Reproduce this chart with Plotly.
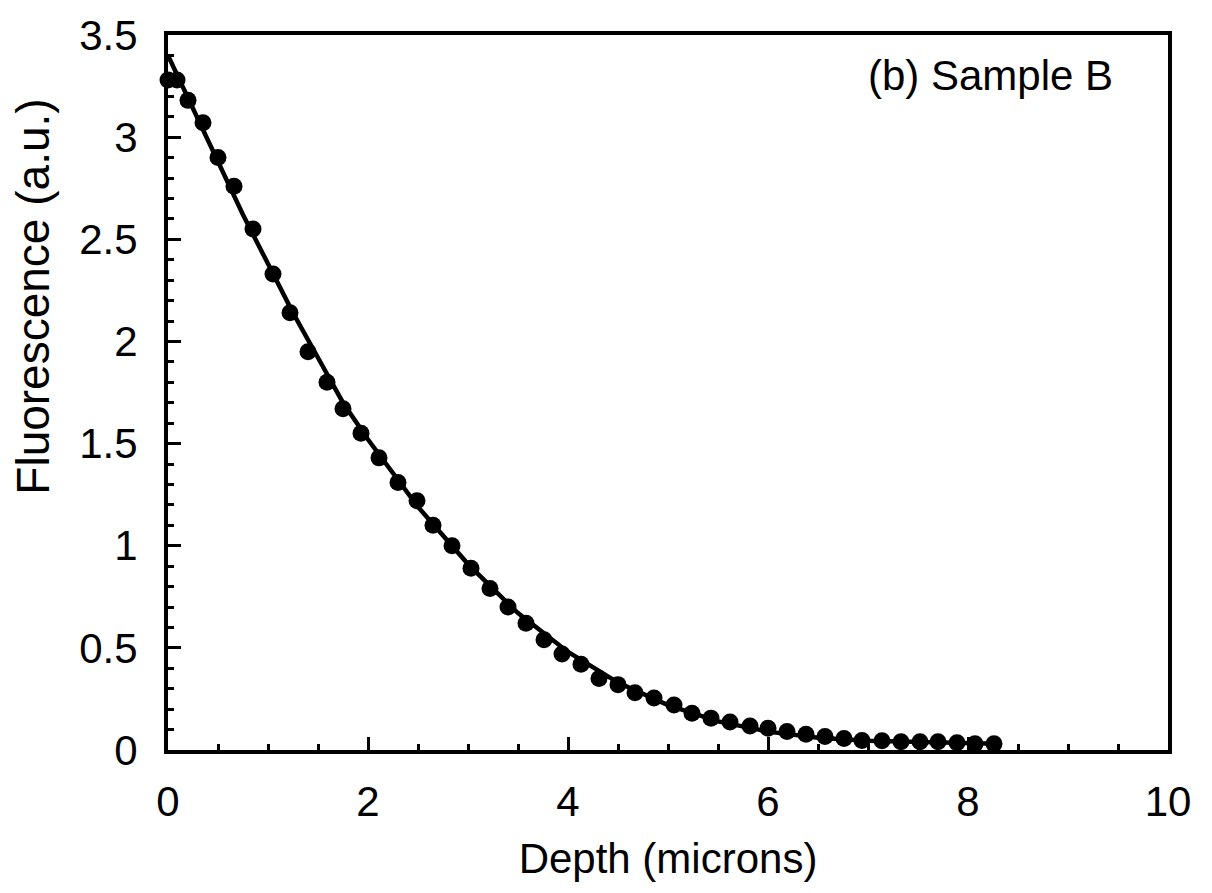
import plotly.graph_objects as go

# Measured data points (depth in microns, fluorescence a.u.)
depth = [0.00, 0.09, 0.20, 0.35, 0.50, 0.66, 0.85, 1.05, 1.22, 1.40,
         1.59, 1.75, 1.93, 2.11, 2.30, 2.49, 2.65, 2.84, 3.03, 3.22,
         3.40, 3.58, 3.76, 3.94, 4.13, 4.31, 4.50, 4.67, 4.86, 5.06,
         5.24, 5.43, 5.62, 5.82, 6.00, 6.19, 6.38, 6.57, 6.76, 6.94,
         7.14, 7.33, 7.52, 7.70, 7.89, 8.07, 8.26]
fluor = [3.28, 3.28, 3.18, 3.07, 2.90, 2.76, 2.55, 2.33, 2.14, 1.95,
         1.80, 1.67, 1.55, 1.43, 1.31, 1.22, 1.10, 1.00, 0.89, 0.79,
         0.70, 0.62, 0.54, 0.47, 0.42, 0.35, 0.32, 0.28, 0.255, 0.22,
         0.18, 0.156, 0.137, 0.117, 0.107, 0.09, 0.077, 0.066, 0.056, 0.046,
         0.045, 0.04, 0.04, 0.04, 0.035, 0.03, 0.03]

# Fitted curve
fit_x = [0, 0.25, 0.5, 0.75, 1.0, 1.25, 1.5, 1.75, 2.0, 2.5, 3.0, 3.5,
         4.0, 4.5, 5.0, 5.5, 6.0, 6.5, 7.0, 7.5, 8.0, 8.3]
fit_y = [3.40, 3.14, 2.88, 2.62, 2.38, 2.14, 1.92, 1.70, 1.52, 1.19, 0.91, 0.67,
         0.48, 0.33, 0.22, 0.14, 0.09, 0.06, 0.045, 0.04, 0.035, 0.03]

x_ticks = [0, 2, 4, 6, 8, 10]
x_ticktext = ["0", "2", "4", "6", "8", "10"]
y_ticks = [0, 0.5, 1, 1.5, 2, 2.5, 3, 3.5]
y_ticktext = ["0", "0.5", "1", "1.5", "2", "2.5", "3", "3.5"]

FONT = "Liberation Sans, Arial, Helvetica, sans-serif"

fig = go.Figure()
fig.add_trace(go.Scatter(x=fit_x, y=fit_y, mode="lines",
                         line=dict(color="black", width=4.5),
                         cliponaxis=False, showlegend=False))
fig.add_trace(go.Scatter(x=depth, y=fluor, mode="markers",
                         marker=dict(color="black", size=17),
                         cliponaxis=False, showlegend=False))

fig.add_annotation(x=9.47, y=3.30, xref="x", yref="y", text="(b) Sample B",
                   showarrow=False, xanchor="right", yanchor="middle",
                   font=dict(family=FONT, size=42, color="black"))

# Y-axis title (placed above centre, as in the reference)
fig.add_annotation(x=-0.135, y=0.634, xref="paper", yref="paper",
                   text="Fluorescence (a.u.)", textangle=-90, showarrow=False,
                   xanchor="center", yanchor="middle",
                   font=dict(family=FONT, size=46, color="black"))

fig.update_layout(
    width=1212, height=893,
    margin=dict(l=168, r=44, t=27, b=143),
    paper_bgcolor="white", plot_bgcolor="white",
    font=dict(family=FONT, color="black", size=42),
    xaxis=dict(
        range=[0, 10], showgrid=False, zeroline=False,
        showline=True, linecolor="black", linewidth=4, mirror=True,
        ticks="inside", ticklen=13, tickwidth=3, tickcolor="black",
        tickvals=x_ticks, ticktext=x_ticktext,
        tickfont=dict(family=FONT, size=42),
        ticklabelstandoff=12,
        minor=dict(dtick=0.5, ticks="inside", ticklen=6, tickwidth=3, tickcolor="black", showgrid=False),
        title=dict(text="Depth (microns)", font=dict(family=FONT, size=42), standoff=20),
    ),
    yaxis=dict(
        range=[0, 3.5], showgrid=False, zeroline=False,
        showline=True, linecolor="black", linewidth=4, mirror=True,
        ticks="inside", ticklen=13, tickwidth=3, tickcolor="black",
        tickvals=y_ticks, ticktext=y_ticktext,
        tickfont=dict(family=FONT, size=42),
        ticklabelstandoff=18,
        minor=dict(dtick=0.1, ticks="inside", ticklen=6, tickwidth=3, tickcolor="black", showgrid=False),
    ),
)

fig.write_html("out.html")
